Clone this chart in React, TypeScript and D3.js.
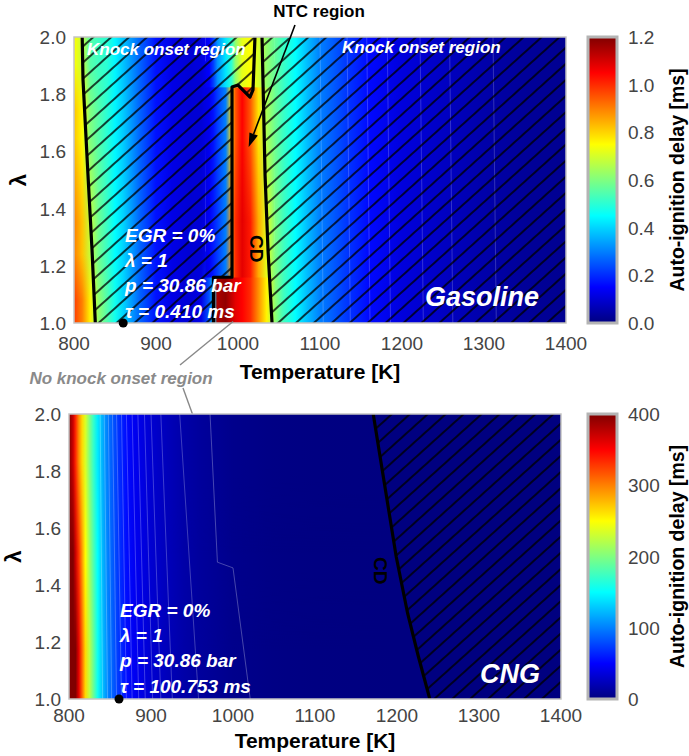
import React from 'react';
import * as d3 from 'd3';

// ---------------- data ----------------
const tempTicks = [800, 900, 1000, 1100, 1200, 1300, 1400];
const lambdaTicks = [1.0, 1.2, 1.4, 1.6, 1.8, 2.0];
const gasCbarTicks = [0.0, 0.2, 0.4, 0.6, 0.8, 1.0, 1.2];
const cngCbarTicks = [0, 100, 200, 300, 400];

// Gasoline auto-ignition delay [ms] vs temperature, one list per lambda band
const gasT = [800, 810, 820, 830, 840, 850, 860, 880, 900, 920, 940, 955, 965, 970, 975, 985, 992, 997, 1005, 1015, 1025, 1035, 1045, 1055, 1070, 1085, 1100, 1130, 1160, 1200, 1250, 1300, 1350, 1400];
const gasBandEdges = [1.0, 1.16, 1.5, 1.825, 2.0];
const gasBlend = [0, 0.08, 0.15, 0.08];
const gasSharpEdge = [false, true, false, true];
const gasSharpT = [960, 1045];
const gasRowA = [0.98, 0.9, 0.76, 0.62, 0.55, 0.47, 0.4, 0.27, 0.17, 0.12, 0.1, 0.12, 0.25, 0.4, 1.15, 1.18, 1.12, 1.08, 1.05, 1.0, 0.88, 0.76, 0.62, 0.53, 0.45, 0.37, 0.3, 0.22, 0.16, 0.11, 0.08, 0.05, 0.03, 0.02];
const gasRowB = [0.9, 0.82, 0.68, 0.58, 0.52, 0.45, 0.4, 0.27, 0.17, 0.12, 0.1, 0.1, 0.14, 0.18, 0.22, 0.3, 0.88, 1.0, 1.08, 1.02, 0.85, 0.72, 0.6, 0.53, 0.45, 0.37, 0.3, 0.22, 0.16, 0.11, 0.08, 0.05, 0.03, 0.02];
const gasRowC = [0.82, 0.75, 0.6, 0.55, 0.5, 0.44, 0.39, 0.27, 0.17, 0.12, 0.1, 0.1, 0.13, 0.17, 0.22, 0.3, 0.8, 0.95, 1.05, 0.95, 0.78, 0.65, 0.58, 0.52, 0.45, 0.37, 0.3, 0.22, 0.16, 0.11, 0.08, 0.05, 0.03, 0.02];
const gasRowD = [0.75, 0.68, 0.55, 0.52, 0.5, 0.44, 0.38, 0.27, 0.17, 0.12, 0.1, 0.11, 0.15, 0.22, 0.32, 0.42, 0.5, 0.62, 0.72, 0.75, 0.7, 0.62, 0.57, 0.52, 0.45, 0.37, 0.3, 0.22, 0.16, 0.11, 0.08, 0.05, 0.03, 0.02];

// CNG auto-ignition delay [ms]
const cngT = [800, 805, 808, 812, 816, 820, 825, 830, 835, 840, 845, 850, 860, 870, 880, 900, 920, 940, 960, 980, 1000, 1050, 1100, 1200, 1400];
const cngBandEdges = [1.0, 1.33, 1.67, 2.0];
const cngBlend = [0, 0.16, 0.16];
const cngRowA = [430, 420, 400, 360, 310, 265, 225, 190, 155, 130, 110, 95, 72, 55, 45, 32, 23, 16, 11, 8, 5, 2, 1, 0, 0];
const cngRowB = [425, 400, 370, 330, 290, 250, 212, 180, 150, 126, 108, 93, 71, 55, 45, 32, 23, 16, 11, 8, 5, 2, 1, 0, 0];
const cngRowC = [420, 370, 335, 295, 265, 235, 200, 170, 142, 122, 105, 91, 70, 54, 44, 32, 23, 16, 11, 8, 5, 2, 1, 0, 0];

// Boundaries [T, lambda]
const gasCDLeft: [number, number][] = [[826, 1.0], [822, 1.255], [817, 1.52], [811, 1.85], [810, 2.0]];
const gasNTCEdge: [number, number][] = [[970, 1.0], [970, 1.16], [992.7, 1.16], [992.7, 1.825], [1000, 1.832], [1014.6, 1.79], [1018.3, 1.815], [1020.7, 2.0]];
const gasCDRight: [number, number][] = [[1029.3, 2.0], [1033, 1.517], [1036.6, 1.255], [1041.5, 1.0]];
const cngCD: [number, number][] = [[1171, 2.0], [1185, 1.75], [1199, 1.5], [1213, 1.3], [1226, 1.15], [1240, 1.0]];

// faint contour lines
const gasIso = [1100, 1133, 1157, 1182, 1222, 1258, 1311];
const cngIsoTop = [838, 843, 848, 853, 858, 864, 870, 877, 884, 892, 900, 912, 935];
const cngIsoBot = [841, 847, 852, 858, 864, 870, 877, 885, 893, 902, 912, 926, 958];
const cngKink: [number, number][] = [[972, 2.0], [981, 1.48], [1000, 1.46], [1021, 1.0]];

// ---------------- helpers ----------------
const FONT = "'Liberation Sans', Arial, Helvetica, sans-serif";

function jet(t: number) {
  t = Math.max(0, Math.min(1, t));
  const c = (v: number) => Math.round(255 * Math.max(0, Math.min(1, v)));
  return `rgb(${c(1.5 - Math.abs(4 * t - 3))},${c(1.5 - Math.abs(4 * t - 2))},${c(1.5 - Math.abs(4 * t - 1))})`;
}

type Sc = d3.ScaleLinear<number, number>;

function Heat({ id, x, y, T, rows, edges, blend, vmax, sharp, sharpEdge }: { id: string; x: Sc; y: Sc; T: number[]; rows: number[][]; edges: number[]; blend: number[]; vmax: number; sharp?: number[]; sharpEdge?: boolean[] }) {
  const [x0, x1] = x.range();
  const n = rows.length;
  return (
    <g>
      <defs>
        {rows.map((row, i) => (
          <linearGradient key={'g' + i} id={`${id}-g${i}`} gradientUnits="userSpaceOnUse" x1={x0} x2={x1} y1={0} y2={0}>
            {T.map((t, j) => (
              <stop key={j} offset={(x(t) - x0) / (x1 - x0)} stopColor={jet(row[j] / vmax)} />
            ))}
          </linearGradient>
        ))}
        {rows.map((row, i) => {
          if (i === 0) return null;
          const h = blend[i];
          const yb = y(edges[i] - h), yt = y(edges[i] + h);
          const full = { y: 0, height: 1000 };
          const useSharp = sharp && sharpEdge && sharpEdge[i];
          return (
            <React.Fragment key={'m' + i}>
              <linearGradient id={`${id}-r${i}`} gradientUnits="userSpaceOnUse" x1={0} x2={0} y1={yb} y2={yt}>
                <stop offset={0} stopColor="#000" />
                <stop offset={1} stopColor="#fff" />
              </linearGradient>
              <mask id={`${id}-m${i}`} maskUnits="userSpaceOnUse" x={0} y={0} width={1000} height={1000}>
                {useSharp ? (
                  <>
                    <rect x={x0 - 2} width={x(sharp![0]) - x0 + 2} {...full} fill={`url(#${id}-r${i})`} />
                    <rect x={x(sharp![0])} width={x(sharp![1]) - x(sharp![0])} y={0} height={y(edges[i]) + 0.3} fill="#fff" />
                    <rect x={x(sharp![1])} width={x1 - x(sharp![1]) + 2} {...full} fill={`url(#${id}-r${i})`} />
                  </>
                ) : (
                  <rect x={x0 - 2} width={x1 - x0 + 4} {...full} fill={`url(#${id}-r${i})`} />
                )}
              </mask>
            </React.Fragment>
          );
        })}
      </defs>
      {rows.map((row, i) => {
        const lo = i === 0 ? edges[0] - 0.05 : edges[i] - blend[i];
        const hi = i === n - 1 ? edges[n] + 0.05 : edges[i + 1] + blend[i + 1] + 0.01;
        return (
          <rect key={i} x={x0} width={x1 - x0} y={y(hi)} height={y(lo) - y(hi)} fill={`url(#${id}-g${i})`} mask={i === 0 ? undefined : `url(#${id}-m${i})`} />
        );
      })}
    </g>
  );
}

function Axes({ x, y, tickOff, titleOff }: { x: Sc; y: Sc; tickOff: number; titleOff: number }) {
  const [x0, x1] = x.range();
  const [y1, y0] = y.range();
  return (
    <g fontFamily={FONT}>
      {tempTicks.map((t) => (
        <text key={t} x={x(t)} y={y1 + tickOff} textAnchor="middle" fontSize={19} fill="#444">{t}</text>
      ))}
      {lambdaTicks.map((l) => (
        <text key={l} x={x0 - 8} y={y(l) + 7} textAnchor="end" fontSize={19} fill="#444">{l.toFixed(1)}</text>
      ))}
      <text x={(x0 + x1) / 2} y={y1 + titleOff} textAnchor="middle" fontSize={21} fontWeight="bold" fill="#000">Temperature [K]</text>
      <text transform={`translate(${x0 - 48},${(y0 + y1) / 2}) rotate(-90)`} textAnchor="middle" fontSize={22} fontWeight="bold" fill="#000">λ</text>
    </g>
  );
}

function Colorbar({ id, top, bottom, ticks, vmax }: { id: string; top: number; bottom: number; ticks: number[]; vmax: number }) {
  const cx0 = 588, cw = 29;
  const s = d3.scaleLinear().domain([0, vmax]).range([bottom, top]);
  const stops = d3.range(0, 1.0001, 0.025);
  return (
    <g fontFamily={FONT}>
      <defs>
        <linearGradient id={id} x1="0" y1="1" x2="0" y2="0">
          {stops.map((t, i) => <stop key={i} offset={t} stopColor={jet(t)} />)}
        </linearGradient>
      </defs>
      <rect x={cx0} y={top} width={cw} height={bottom - top} fill={`url(#${id})`} stroke="#b4b4b4" strokeWidth={3} />
      {ticks.map((t) => (
        <text key={t} x={628} y={s(t) + 7} fontSize={19} fill="#444">{vmax > 10 ? t : t.toFixed(1)}</text>
      ))}
      <text transform={`translate(${684},${(top + bottom) / 2}) rotate(-90)`} textAnchor="middle" fontSize={19.5} fontWeight="bold" fill="#000">Auto-ignition delay [ms]</text>
    </g>
  );
}

export default function App() {
  const W = 689, H = 756;
  const xg = d3.scaleLinear().domain([800, 1400]).range([74, 566]);
  const yg = d3.scaleLinear().domain([1, 2]).range([323, 37]);
  const xc = d3.scaleLinear().domain([800, 1400]).range([69, 561]);
  const yc = d3.scaleLinear().domain([1, 2]).range([699, 414]);

  const lineG = d3.line<[number, number]>().x((d) => xg(d[0])).y((d) => yg(d[1]));
  const lineC = d3.line<[number, number]>().x((d) => xc(d[0])).y((d) => yc(d[1]));

  const hatchG1: [number, number][] = [...gasCDLeft, ...gasNTCEdge.slice().reverse()];
  const hatchG2: [number, number][] = [...gasCDRight, [1400, 1.0], [1400, 2.0]];
  const hatchC: [number, number][] = [...cngCD, [1400, 1.0], [1400, 2.0]];

  const txt = { fontFamily: FONT, fontWeight: 'bold' as const, fontStyle: 'italic' as const };

  const arrowTip = [xg(1013), yg(1.615)];
  const arrowTail = [295, 25];
  const ang = Math.atan2(arrowTip[1] - arrowTail[1], arrowTip[0] - arrowTail[0]);
  const ah = 14, aw = 4.5;
  const bx = arrowTip[0] - ah * Math.cos(ang), by = arrowTip[1] - ah * Math.sin(ang);
  const head = `M${arrowTip[0]},${arrowTip[1]} L${bx + aw * Math.sin(ang)},${by - aw * Math.cos(ang)} L${bx - aw * Math.sin(ang)},${by + aw * Math.cos(ang)} Z`;

  return (
    <svg width={W} height={H} style={{ position: 'absolute', left: 0, top: 0, background: '#fff' }}>
      <defs>
        <clipPath id="clipG"><rect x={74} y={37} width={492} height={286} /></clipPath>
        <clipPath id="clipC"><rect x={69} y={414} width={492} height={285} /></clipPath>
        <pattern id="hatch" patternUnits="userSpaceOnUse" width={12} height={12} patternTransform="rotate(-42)">
          <line x1={-1} y1={6} x2={13} y2={6} stroke="#000" strokeWidth={1.5} />
        </pattern>
      </defs>

      {/* ---------- Gasoline ---------- */}
      <g clipPath="url(#clipG)">
        <Heat id="gas" x={xg} y={yg} T={gasT} rows={[gasRowA, gasRowB, gasRowC, gasRowD]} edges={gasBandEdges} blend={gasBlend} vmax={1.2} sharp={gasSharpT} sharpEdge={gasSharpEdge} />
        {gasIso.map((t) => (
          <line key={t} x1={xg(t)} x2={xg(t + 4)} y1={yg(2)} y2={yg(1)} stroke="#fff" strokeOpacity={0.25} strokeWidth={0.8} />
        ))}
        <path d={lineG(hatchG1) + 'Z'} fill="url(#hatch)" />
        <path d={lineG(hatchG2) + 'Z'} fill="url(#hatch)" />
        <path d={lineG(gasCDLeft)!} fill="none" stroke="#000" strokeWidth={3.2} />
        <path d={lineG(gasNTCEdge)!} fill="none" stroke="#000" strokeWidth={3.2} strokeLinejoin="round" />
        <path d={lineG(gasCDRight)!} fill="none" stroke="#000" strokeWidth={3.2} />
      </g>
      <rect x={74} y={37} width={492} height={286} fill="none" stroke="#c4c4c4" strokeWidth={1.5} />
      <Axes x={xg} y={yg} tickOff={27} titleOff={56} />
      <Colorbar id="cbG" top={37} bottom={323} ticks={gasCbarTicks} vmax={1.2} />

      <text x={87} y={55} fill="#fff" fontSize={17} {...txt}>Knock onset region</text>
      <text x={342} y={53} fill="#fff" fontSize={17} {...txt}>Knock onset region</text>
      <text transform={`translate(${xg(1023)},${yg(1.26)}) rotate(90)`} textAnchor="middle" fontSize={19} fontFamily={FONT} fontWeight="bold" fill="#000" dy="0.35em">CD</text>
      <g fill="#fff" fontSize={19} {...txt}>
        <text x={125} y={242}>EGR = 0%</text>
        <text x={125} y={267}>λ = 1</text>
        <text x={125} y={292}>p = 30.86 bar</text>
        <text x={125} y={318}>τ = 0.410 ms</text>
      </g>
      <text x={482} y={306} textAnchor="middle" fill="#fff" fontSize={27} {...txt}>Gasoline</text>
      <circle cx={xg(860)} cy={yg(1.0)} r={4.5} fill="#000" />

      {/* NTC annotation */}
      <text x={319} y={17} textAnchor="middle" fontSize={17} fontFamily={FONT} fontWeight="bold" fill="#000">NTC region</text>
      <line x1={arrowTail[0]} y1={arrowTail[1]} x2={bx} y2={by} stroke="#000" strokeWidth={1.6} />
      <path d={head} fill="#000" />

      {/* No knock onset annotation */}
      <line x1={xg(994)} y1={yg(1.005)} x2={180} y2={365} stroke="#888" strokeWidth={1.4} />
      <line x1={183} y1={388} x2={xc(958.5)} y2={yc(1.937)} stroke="#888" strokeWidth={1.4} />
      <text x={121} y={384} textAnchor="middle" fill="#8a8a8a" fontSize={17} {...txt}>No knock onset region</text>

      {/* ---------- CNG ---------- */}
      <g clipPath="url(#clipC)">
        <Heat id="cng" x={xc} y={yc} T={cngT} rows={[cngRowA, cngRowB, cngRowC]} edges={cngBandEdges} blend={cngBlend} vmax={400} />
        {cngIsoTop.map((t, i) => (
          <line key={t} x1={xc(t)} x2={xc(cngIsoBot[i])} y1={yc(2)} y2={yc(1)} stroke="#fff" strokeOpacity={0.3} strokeWidth={0.8} />
        ))}
        <path d={lineC(cngKink)!} fill="none" stroke="#fff" strokeOpacity={0.35} strokeWidth={0.8} />
        <path d={lineC(hatchC) + 'Z'} fill="url(#hatch)" />
        <path d={lineC(cngCD)!} fill="none" stroke="#000" strokeWidth={3.2} />
      </g>
      <rect x={69} y={414} width={492} height={285} fill="none" stroke="#c4c4c4" strokeWidth={1.5} />
      <Axes x={xc} y={yc} tickOff={23} titleOff={49} />
      <Colorbar id="cbC" top={414} bottom={699} ticks={cngCbarTicks} vmax={400} />
      <text transform={`translate(${xc(1180)},${yc(1.45)}) rotate(90)`} textAnchor="middle" fontSize={19} fontFamily={FONT} fontWeight="bold" fill="#000" dy="0.35em">CD</text>
      <g fill="#fff" fontSize={19} {...txt}>
        <text x={120} y={617}>EGR = 0%</text>
        <text x={120} y={642}>λ = 1</text>
        <text x={120} y={667}>p = 30.86 bar</text>
        <text x={120} y={693}>τ = 100.753 ms</text>
      </g>
      <text x={510} y={683} textAnchor="middle" fill="#fff" fontSize={27} {...txt}>CNG</text>
      <circle cx={xc(861)} cy={yc(1.0)} r={4.5} fill="#000" />
    </svg>
  );
}
